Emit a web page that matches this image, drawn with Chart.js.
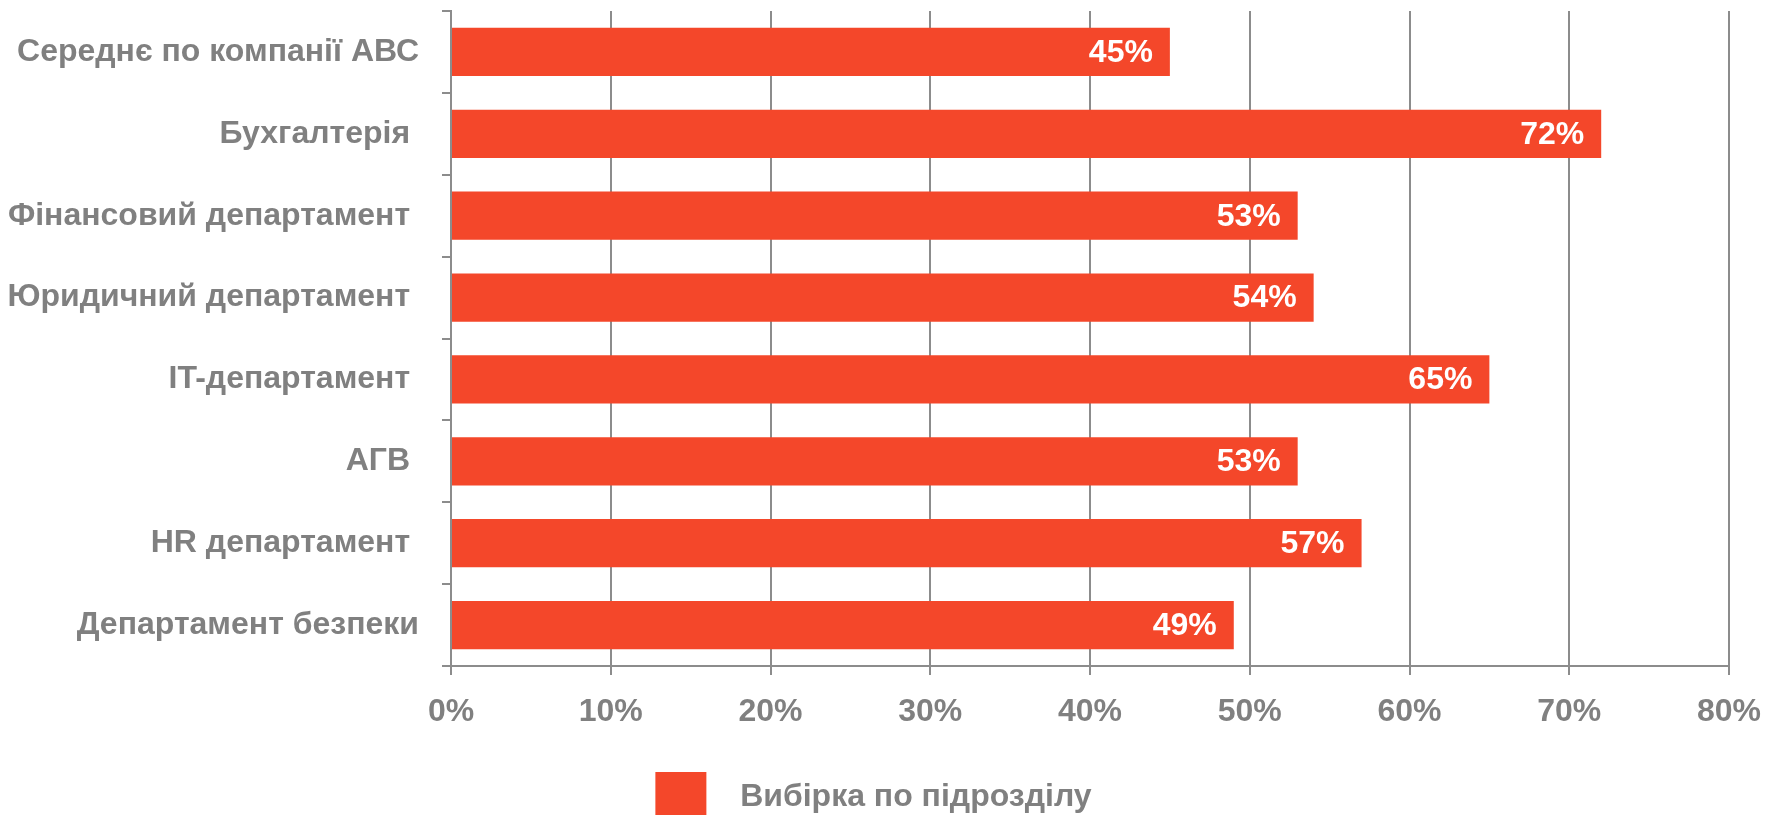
<!DOCTYPE html>
<html>
<head>
<meta charset="utf-8">
<script src="https://cdn.jsdelivr.net/npm/chart.js@4"></script>
<style>
html,body{margin:0;padding:0;background:#fff;}
#wrap{width:1781px;height:815px;position:relative;}
</style>
</head>
<body>
<div id="wrap"><canvas id="c" width="1781" height="815"></canvas></div>
<script>
const categories = [
  'Середнє по компанії АВС',
  'Бухгалтерія ',
  'Фінансовий департамент ',
  'Юридичний департамент ',
  'IT-департамент ',
  'АГВ ',
  'HR департамент ',
  'Департамент безпеки'
];
const seriesName = 'Вибірка по підрозділу';
const values = [45, 72, 53, 54, 65, 53, 57, 49];
const xTicks = [0, 10, 20, 30, 40, 50, 60, 70, 80];

const GREY = '#808080';
const LINE = '#8c8c8c';
const BAR = '#F4472A';
const FONT = 'Liberation Sans, Arial, sans-serif';
const FS = 32;

const valueLabels = {
  id: 'valueLabels',
  afterDatasetsDraw(chart) {
    const ctx = chart.ctx;
    const meta = chart.getDatasetMeta(0);
    ctx.save();
    ctx.fillStyle = '#ffffff';
    ctx.font = 'bold ' + FS + 'px ' + FONT;
    ctx.textAlign = 'right';
    ctx.textBaseline = 'middle';
    meta.data.forEach((el, i) => {
      ctx.fillText(values[i] + '%', el.x - 17, el.y + 1);
    });
    ctx.restore();
  }
};

const legendShift = {
  id: 'legendShift',
  afterLayout(chart) {
    if (chart.legend) { chart.legend.left += 9; chart.legend.right += 9; }
  }
};

new Chart(document.getElementById('c'), {
  type: 'bar',
  data: {
    labels: categories,
    datasets: [{
      label: seriesName,
      data: values,
      backgroundColor: BAR,
      borderWidth: 0,
      barPercentage: 0.59,
      categoryPercentage: 1.0
    }]
  },
  options: {
    indexAxis: 'y',
    responsive: false,
    animation: false,
    layout: { padding: { top: 11, right: 52, left: 0, bottom: -18 } },
    plugins: {
      tooltip: { enabled: false },
      legend: {
        position: 'bottom',
        labels: {
          color: GREY,
          font: { family: FONT, size: FS, weight: 'bold' },
          boxWidth: 51,
          boxHeight: 51,
          padding: 32,
          generateLabels(chart) {
            const items = Chart.defaults.plugins.legend.labels.generateLabels(chart);
            items.forEach(it => { it.text = '  ' + it.text; it.lineWidth = 0; });
            return items;
          }
        }
      }
    },
    scales: {
      x: {
        min: 0,
        max: 80,
        afterBuildTicks(scale) { scale.ticks = xTicks.map(v => ({ value: v })); },
        afterFit(scale) { scale.height = 74; },
        ticks: {
          color: GREY,
          font: { family: FONT, size: FS, weight: 'bold' },
          padding: 18,
          callback: (v) => v + '%'
        },
        grid: {
          color: LINE,
          lineWidth: 2,
          tickLength: 9,
          drawOnChartArea: true
        },
        border: { color: LINE, width: 2 }
      },
      y: {
        afterFit(scale) { scale.width = 451; scale.paddingTop = 0; scale.paddingBottom = 0; },
        ticks: {
          color: GREY,
          font: { family: FONT, size: FS, weight: 'bold' },
          padding: 23
        },
        grid: {
          offset: true,
          drawOnChartArea: false,
          color: LINE,
          lineWidth: 2,
          tickLength: 9
        },
        border: { color: LINE, width: 2 }
      }
    }
  },
  plugins: [valueLabels, legendShift]
});
</script>
</body>
</html>
